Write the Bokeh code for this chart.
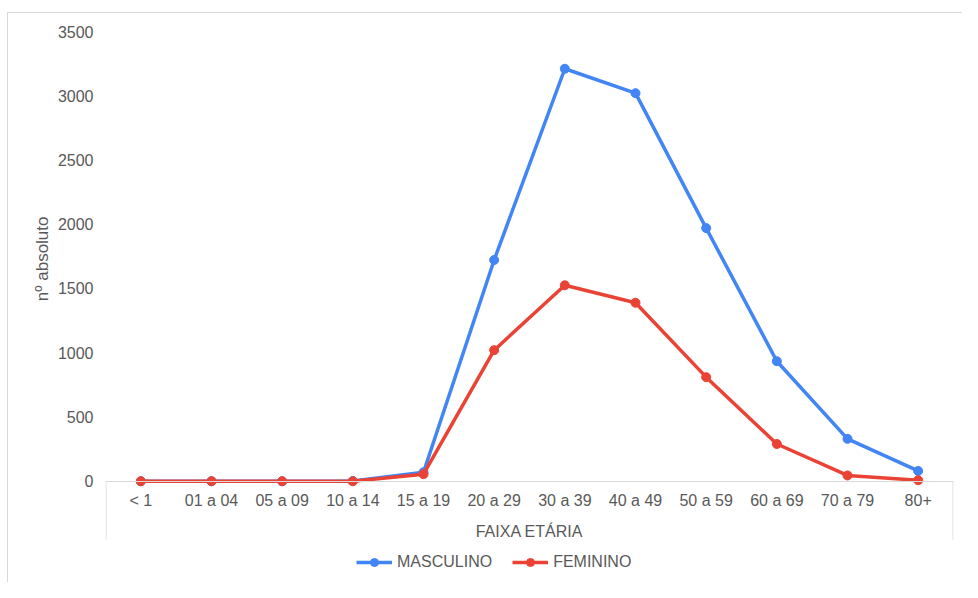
from bokeh.plotting import figure
from bokeh.models import FactorRange, Range1d, FixedTicker, Legend, LegendItem, Title
from bokeh.embed import file_html
from bokeh.resources import INLINE

categorias = ["< 1", "01 a 04", "05 a 09", "10 a 14", "15 a 19", "20 a 29",
              "30 a 39", "40 a 49", "50 a 59", "60 a 69", "70 a 79", "80+"]
masculino = [0, 0, 0, 2, 70, 1722, 3210, 3020, 1970, 934, 330, 80]
feminino = [0, 0, 0, 0, 55, 1020, 1525, 1389, 810, 290, 45, 8]
y_ticks = [0, 500, 1000, 1500, 2000, 2500, 3000, 3500]

AZUL = "#4285F4"
VERMELHO = "#EA4335"
TEXTO = "#595959"
FONTE = "Liberation Sans"
GRADE = "#d9d9d9"

p = figure(width=962, height=582, x_range=FactorRange(*categorias),
           y_range=Range1d(-788, 3500), output_backend="svg",
           toolbar_location=None, min_border_left=105, min_border_top=31,
           min_border_right=9, min_border_bottom=0)
p.outline_line_color = None
p.grid.grid_line_color = None
p.border_fill_color = None

# y axis
p.yaxis.ticker = FixedTicker(ticks=y_ticks)
p.yaxis.axis_line_color = None
p.yaxis.major_tick_line_color = None
p.yaxis.minor_tick_line_color = None
p.yaxis.major_tick_out = 0
p.yaxis.major_label_standoff = 12
p.yaxis.major_label_text_font = FONTE
p.yaxis.major_label_text_font_size = "16px"
p.yaxis.major_label_text_color = TEXTO

# x axis fixed at zero
p.xaxis.fixed_location = 0
p.xaxis.axis_line_color = GRADE
p.xaxis.axis_line_width = 1
p.xaxis.major_tick_line_color = None
p.xaxis.minor_tick_line_color = None
p.xaxis.major_tick_out = 0
p.xaxis.major_label_standoff = 11
p.xaxis.major_label_text_font = FONTE
p.xaxis.major_label_text_font_size = "16px"
p.xaxis.major_label_text_color = TEXTO
p.xaxis.axis_label = "FAIXA ETÁRIA"
p.xaxis.axis_label_text_font = FONTE
p.xaxis.axis_label_text_font_size = "16px"
p.xaxis.axis_label_text_font_style = "normal"
p.xaxis.axis_label_text_color = TEXTO
p.xaxis.axis_label_standoff = 10

# frame lines below the axis
p.segment(x0=[(categorias[0], -0.493), (categorias[-1], 0.493)],
          x1=[(categorias[0], -0.493), (categorias[-1], 0.493)],
          y0=[0, 0], y1=[-455, -455], line_color=GRADE, line_width=1)

# y label
p.add_layout(Title(text="nº absoluto", align="right", offset=185, standoff=6,
                   text_font=FONTE, text_font_size="17px", text_font_style="normal",
                   text_color=TEXTO), "left")

lm = p.line(categorias, masculino, line_color=AZUL, line_width=3.5)
sm = p.scatter(categorias, masculino, size=9, fill_color=AZUL, line_color=AZUL)
lf = p.line(categorias, feminino, line_color=VERMELHO, line_width=3.5)
sf = p.scatter(categorias, feminino, size=9, fill_color=VERMELHO, line_color=VERMELHO)

legend = Legend(items=[LegendItem(label="MASCULINO", renderers=[lm, sm]),
                       LegendItem(label="FEMININO", renderers=[lf, sf])],
                orientation="horizontal", location=(251, 10),
                glyph_width=36, glyph_height=20, label_standoff=5, spacing=20,
                padding=0, margin=0, background_fill_alpha=0, border_line_color=None,
                label_text_font=FONTE, label_text_font_size="16px",
                label_text_color=TEXTO)
p.add_layout(legend)

p.styles = {"background": "linear-gradient(#d9d9d9,#d9d9d9) 7px 12px / 1px calc(100% - 12px) no-repeat, "
                          "linear-gradient(#d9d9d9,#d9d9d9) 7px 12px / calc(100% - 7px) 1px no-repeat, white"}

open("out.html", "w").write(file_html(p, INLINE))
